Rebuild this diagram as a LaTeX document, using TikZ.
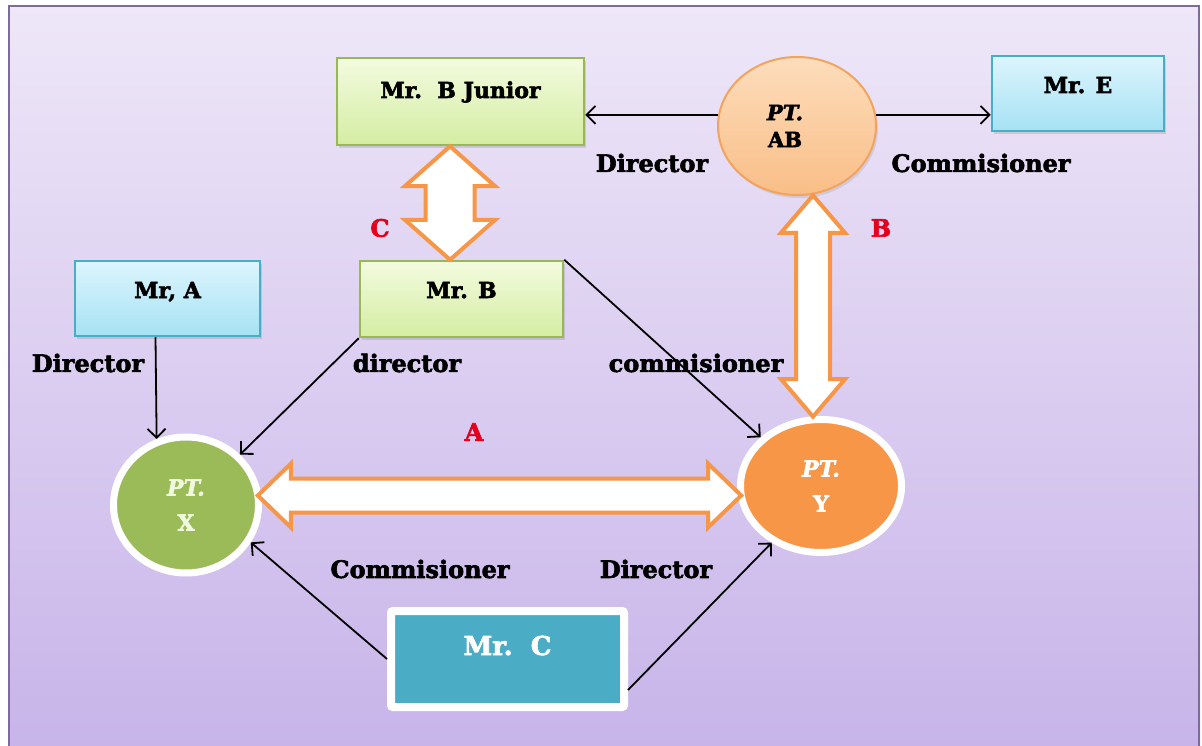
\documentclass[tikz,border=0pt]{standalone}
\usepackage{fontspec}
\setmainfont{DejaVu Serif}[BoldFeatures={FakeBold=2.5},BoldItalicFeatures={FakeBold=2.5}]
\usepackage{tikz}
\usetikzlibrary{arrows.meta}
\usetikzlibrary{calc}
\usetikzlibrary{shapes.geometric}
\usetikzlibrary{shapes.arrows}
\usetikzlibrary{shadows}

\definecolor{bgtop}{HTML}{EEE7F8}
\definecolor{bgbot}{HTML}{C7B3E9}
\definecolor{bgline}{HTML}{7E6A9C}
\definecolor{greentop}{HTML}{F3FBDF}
\definecolor{greenbot}{HTML}{D4EDA2}
\definecolor{greenline}{HTML}{98B65A}
\definecolor{cyantop}{HTML}{DCF5FD}
\definecolor{cyanbot}{HTML}{A6E2F4}
\definecolor{cyanline}{HTML}{4BACC6}
\definecolor{peachtop}{HTML}{FDDDBC}
\definecolor{peachbot}{HTML}{F9BE87}
\definecolor{peachline}{HTML}{F2A35E}
\definecolor{olive}{HTML}{9BBB59}
\definecolor{orangefill}{HTML}{F79646}
\definecolor{teal}{HTML}{4BACC6}
\definecolor{arrowline}{HTML}{F79646}
\definecolor{letterred}{HTML}{E2001A}
\definecolor{palegreen}{HTML}{F0F8DE}

\tikzset{
  box/.style={rectangle, inner sep=0pt, line width=2.5pt,
    font=\fontsize{22}{26}\selectfont\bfseries,
    drop shadow={opacity=0.25, shadow xshift=2pt, shadow yshift=-3pt}},
  greenbox/.style={box, draw=greenline, top color=greentop, bottom color=greenbot},
  cyanbox/.style={box, draw=cyanline, top color=cyantop, bottom color=cyanbot},
  company/.style={ellipse, inner sep=0pt, align=center,
    drop shadow={opacity=0.2, shadow xshift=2pt, shadow yshift=-3pt}},
  role/.style={font=\fontsize{24}{28}\selectfont\bfseries},
  letter/.style={font=\fontsize{24}{28}\selectfont\bfseries, text=letterred},
  link/.style={-{Straight Barb[length=9pt,width=18pt]}, line width=1.8pt},
  bigarrow/.style={double arrow, draw=arrowline, fill=white, line width=4pt,
    inner xsep=0pt, minimum width=0pt}
}

\begin{document}
\begin{tikzpicture}[x=1pt, y=-1pt]

    \useasboundingbox (0,0) rectangle (1202,746);
    \fill[top color=bgtop, bottom color=bgbot] (9,6) rectangle (1200,760);
    \draw[bgline, line width=2pt] (9,760) -- (9,6) -- (1199,6) -- (1199,760);

    \node[greenbox, minimum width=247pt, text height=40pt, text depth=47pt]
      (BJunior) at (460.5,101.5) {Mr.\ \ B Junior};
    \node[cyanbox, minimum width=172pt, text height=37pt, text depth=38pt]
      (MrE) at (1078,93.5) {Mr. E};
    \node[greenbox, minimum width=203pt, text height=37pt, text depth=39pt]
      (MrB) at (461.5,299) {Mr. B};
    \node[cyanbox, minimum width=185pt, text height=37pt, text depth=38pt]
      (MrA) at (167.5,298.5) {Mr, A};
    \node[box, draw=white, fill=teal, line width=8pt, rounded corners=2pt,
      text=white, font=\fontsize{26}{30}\selectfont\bfseries,
      minimum width=233pt, text height=44pt, text depth=52pt]
      (MrC) at (507.5,659) {Mr.\ \ C};

    \node[company, draw=peachline, line width=2pt, top color=peachtop,
      bottom color=peachbot, minimum width=158pt, minimum height=138pt,
      font=\fontsize{21}{27}\selectfont\bfseries]
      (PTAB) at (797,126) {\textit{PT.}\hspace*{24pt}\\AB\hspace*{24pt}};
    \node[company, draw=white, line width=7pt, fill=olive, text=palegreen,
      minimum width=145pt, minimum height=136pt,
      font=\fontsize{22}{35}\selectfont\bfseries]
      (PTX) at (186,505) {\textit{PT.}\\X};
    \node[company, draw=white, line width=7pt, fill=orangefill, text=white,
      minimum width=161pt, minimum height=133pt,
      font=\fontsize{22}{35}\selectfont\bfseries]
      (PTY) at (821,486) {\textit{PT.}\\Y};

    \path let \p1=(BJunior.south), \p2=(MrB.north),
      \n1={veclen(\x2-\x1,\y2-\y1)} in
      node[bigarrow, rotate=90, minimum height=\n1, inner ysep=22.5pt,
        double arrow head extend=20.5pt, double arrow tip angle=97]
      (LinkC) at ($(\p1)!.5!(\p2)+(-11,0)$) {};
    \path let \p1=(PTAB.south), \p2=(PTY.north),
      \n1={veclen(\x2-\x1,\y2-\y1)} in
      node[bigarrow, rotate=90, minimum height=\n1, inner ysep=15pt,
        double arrow head extend=15pt, double arrow tip angle=81]
      (LinkB) at ($(\p1)!.5!(\p2)+(4,0)$) {};
    \path let \p1=(PTX.east), \p2=(PTY.west),
      \n1={veclen(\x2-\x1,\y2-\y1)} in
      node[bigarrow, minimum height=\n1+8pt, inner ysep=15pt,
        double arrow head extend=15pt, double arrow tip angle=88]
      (LinkA) at ($(\p1)!.5!(\p2)$) {};

    \draw[link] (PTAB.172) -- (PTAB.172 -| BJunior.east);
    \draw[link] (PTAB.8) -- (PTAB.8 -| MrE.west);
    \draw[link] ([xshift=-12pt]MrA.south) -- (PTX.114);
    \draw[link] (MrB.south west) -- (PTX.43);
    \draw[link] (MrB.north east) -- (PTY.141);
    \draw[link] (MrC.west) -- (PTX.-30);
    \draw[link] ([yshift=-31pt]MrC.east) -- (PTY.-131);

    \node[role] (DirAB) at (652,163) {Director};
    \node[role] (ComAB) at (981,163) {Commisioner};
    \node[role] (DirA) at (88,363) {Director};
    \node[role] (DirB) at (407,363) {director};
    \node[role] (ComB) at (696,363) {commisioner};
    \node[role] (ComC) at (420,569) {Commisioner};
    \node[role] (DirC) at (656,569) {Director};

    \node[letter] (TagA) at (474,432) {A};
    \node[letter] (TagB) at (881,228) {B};
    \node[letter] (TagC) at (380,228) {C};

\end{tikzpicture}
\end{document}
